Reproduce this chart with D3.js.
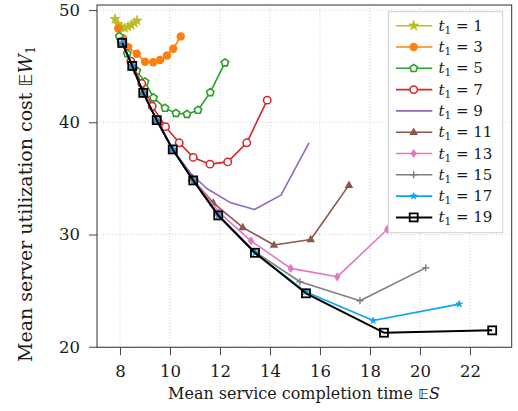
<!DOCTYPE html>
<html>
<head>
<meta charset="utf-8">
<script src="https://cdn.jsdelivr.net/npm/d3@7"></script>
<style>
  html, body { margin: 0; padding: 0; background: #fff; }
  svg { display: block; }
  text { font-family: "DejaVu Serif", "Liberation Serif", serif; fill: #1a1a1a; }
</style>
</head>
<body>
<svg id="chart" width="518" height="411"></svg>
<script>
// ---------------- data ----------------
const t1Values = [1, 3, 5, 7, 9, 11, 13, 15, 17, 19];
const xTicks = [8, 10, 12, 14, 16, 18, 20, 22];
const yTicks = [20, 30, 40, 50];

const es1  = [7.80, 7.92, 8.05, 8.18, 8.32, 8.45, 8.58, 8.68];
const ew1  = [49.2, 48.75, 48.45, 48.4, 48.5, 48.65, 48.85, 49.05];
const es3  = [7.93, 8.12, 8.33, 8.67, 9.00, 9.33, 9.60, 9.88, 10.13, 10.43];
const ew3  = [48.35, 47.5, 46.7, 46.1, 45.4, 45.35, 45.55, 45.95, 46.55, 47.65];
const es5  = [7.97, 8.29, 8.67, 9.00, 9.34, 9.80, 10.24, 10.68, 11.12, 11.61, 12.20];
const ew5  = [47.67, 46.13, 44.58, 43.6, 42.19, 41.26, 40.81, 40.72, 41.08, 42.66, 45.31];
const es7  = [8.05, 8.43, 8.87, 9.29, 9.82, 10.37, 10.93, 11.60, 12.31, 13.07, 13.89];
const ew7  = [47.2, 45.44, 43.45, 41.43, 39.61, 38.17, 36.87, 36.27, 36.47, 38.17, 41.97];
const es9  = [8.09, 8.49, 8.93, 9.47, 10.11, 10.85, 11.47, 12.40, 13.38, 14.44, 15.56];
const ew9  = [47.07, 45.02, 42.62, 40.19, 37.58, 35.4, 34.10, 32.86, 32.23, 33.51, 38.17];
const es11 = [8.09, 8.49, 8.93, 9.47, 10.11, 10.87, 11.73, 12.91, 14.16, 15.63, 17.16];
const ew11 = [47.07, 45.02, 42.62, 40.19, 37.58, 35.0, 32.82, 30.63, 29.06, 29.56, 34.40];
const es13 = [8.09, 8.49, 8.93, 9.47, 10.11, 10.93, 11.95, 13.24, 14.83, 16.69, 18.69];
const ew13 = [47.07, 45.02, 42.62, 40.19, 37.58, 34.9, 32.0, 29.44, 26.98, 26.23, 30.45];
const es15 = [8.09, 8.49, 8.93, 9.47, 10.11, 10.93, 11.93, 13.37, 15.20, 17.60, 20.23];
const ew15 = [47.07, 45.02, 42.62, 40.19, 37.58, 34.82, 31.75, 28.5, 25.79, 24.10, 27.03];
const es17 = [8.09, 8.49, 8.93, 9.47, 10.11, 10.93, 11.93, 13.40, 15.42, 18.13, 21.57];
const ew17 = [47.07, 45.02, 42.62, 40.19, 37.58, 34.82, 31.70, 28.37, 24.9, 22.33, 23.80];
const es19 = [8.09, 8.49, 8.93, 9.47, 10.11, 10.93, 11.93, 13.40, 15.44, 18.56, 22.89];
const ew19 = [47.07, 45.02, 42.62, 40.19, 37.58, 34.82, 31.70, 28.37, 24.76, 21.25, 21.46];

const colors = ["#bcbd22", "#ff7f0e", "#2ca02c", "#d62728", "#9467bd",
                "#8c564b", "#e377c2", "#7f7f7f", "#0aa5ec", "#000000"];
const markers = ["star", "circleFilled", "pentagon", "circleOpen", "none",
                 "triangle", "diamond", "plus", "asterisk", "square"];
const esAll = [es1, es3, es5, es7, es9, es11, es13, es15, es17, es19];
const ewAll = [ew1, ew3, ew5, ew7, ew9, ew11, ew13, ew15, ew17, ew19];

const series = t1Values.map((t, i) => ({
  t1: t, color: colors[i], marker: markers[i],
  points: esAll[i].map((x, j) => ({x: x, y: ewAll[i][j]}))
}));

// ---------------- layout ----------------
const svg = d3.select("#chart");
const L = 97, R = 511.7, T = 5, B = 347.3;
const x = d3.scaleLinear().domain([7.08, 23.67]).range([L, R]);
const y = d3.scaleLinear().domain([19.95, 50.45]).range([B, T]);

// grid
const grid = svg.append("g");
grid.selectAll("line.gx").data(xTicks).join("line")
  .attr("x1", d => x(d)).attr("x2", d => x(d)).attr("y1", T).attr("y2", B)
  .attr("stroke", "#c8c8c8").attr("stroke-width", 0.8).attr("stroke-dasharray", "1,2");
grid.selectAll("line.gy").data(yTicks).join("line")
  .attr("y1", d => y(d)).attr("y2", d => y(d)).attr("x1", L).attr("x2", R)
  .attr("stroke", "#c8c8c8").attr("stroke-width", 0.8).attr("stroke-dasharray", "1,2");

// axes
const xAxis = svg.append("g").attr("transform", `translate(0,${B})`)
  .call(d3.axisBottom(x).tickValues(xTicks).tickSize(8).tickPadding(10).tickFormat(d3.format("d")));
const yAxis = svg.append("g").attr("transform", `translate(${L},0)`)
  .call(d3.axisLeft(y).tickValues(yTicks).tickSize(8).tickPadding(9).tickFormat(d3.format("d")));
[xAxis, yAxis].forEach(g => {
  g.select(".domain").remove();
  g.selectAll(".tick line").attr("stroke", "#333").attr("stroke-width", 0.9);
  g.selectAll(".tick text").attr("font-size", 16.5)
    .attr("font-family", "Liberation Serif, serif").attr("fill", "#1a1a1a");
});

// markers
function pentagon(r) {
  const p = d3.range(5).map(k => {
    const a = -Math.PI / 2 + k * 2 * Math.PI / 5;
    return [r * Math.cos(a), r * Math.sin(a)];
  });
  return "M" + p.map(q => q.join(",")).join("L") + "Z";
}
function drawMarker(g, type, color, cx, cy) {
  const t = `translate(${cx},${cy})`;
  switch (type) {
    case "star":
      g.append("path").attr("d", d3.symbol(d3.symbolStar, 30)()).attr("transform", t)
        .attr("fill", color).attr("stroke", color).attr("stroke-width", 0.8); break;
    case "circleFilled":
      g.append("circle").attr("cx", cx).attr("cy", cy).attr("r", 4.2).attr("fill", color); break;
    case "pentagon":
      g.append("path").attr("d", pentagon(3.9)).attr("transform", t)
        .attr("fill", "#fff").attr("stroke", color).attr("stroke-width", 1.6); break;
    case "circleOpen":
      g.append("circle").attr("cx", cx).attr("cy", cy).attr("r", 3.7)
        .attr("fill", "#fff").attr("stroke", color).attr("stroke-width", 1.5); break;
    case "triangle":
      g.append("path").attr("d", "M0,-4.6L4.3,2.8L-4.3,2.8Z").attr("transform", t).attr("fill", color); break;
    case "diamond":
      g.append("path").attr("d", "M0,-4.6L3.2,0L0,4.6L-3.2,0Z").attr("transform", t).attr("fill", color); break;
    case "plus":
      g.append("path").attr("d", "M-3.5,0H3.5M0,-3.5V3.5").attr("transform", t)
        .attr("stroke", color).attr("stroke-width", 1.5).attr("fill", "none"); break;
    case "asterisk":
      g.append("path").attr("d", d3.symbol(d3.symbolStar, 14)()).attr("transform", t)
        .attr("fill", color).attr("stroke", color).attr("stroke-width", 0.8); break;
    case "square":
      g.append("rect").attr("x", cx - 4).attr("y", cy - 4).attr("width", 8).attr("height", 8)
        .attr("fill", "none").attr("stroke", color).attr("stroke-width", 1.8); break;
  }
}

// series
const line = d3.line().x(d => x(d.x)).y(d => y(d.y));
series.forEach(s => {
  const g = svg.append("g");
  g.append("path").attr("d", line(s.points)).attr("fill", "none")
    .attr("stroke", s.color).attr("stroke-width", s.t1 === 19 ? 2 : 1.6)
    .attr("stroke-linejoin", "round");
  s.points.forEach(p => drawMarker(g, s.marker, s.color, x(p.x), y(p.y)));
});

// frame
svg.append("rect").attr("x", L).attr("y", T).attr("width", R - L).attr("height", B - T)
  .attr("fill", "none").attr("stroke", "#333").attr("stroke-width", 1);

// legend
const lg = svg.append("g");
const lx = 388.3, ly = 11.7, lw = 114.4, lh = 221;
lg.append("rect").attr("x", lx).attr("y", ly).attr("width", lw).attr("height", lh)
  .attr("fill", "#fff").attr("stroke", "#cfcfcf").attr("stroke-width", 1);
series.forEach((s, i) => {
  const ry = 25.7 + i * 21.3;
  const g = lg.append("g");
  g.append("line").attr("x1", 396).attr("x2", 432.3).attr("y1", ry).attr("y2", ry)
    .attr("stroke", s.color).attr("stroke-width", s.t1 === 19 ? 2 : 1.6);
  drawMarker(g, s.marker, s.color, 413.7, ry);
  const tx = g.append("text").attr("x", 438.5).attr("y", ry + 5).attr("font-size", 15);
  tx.append("tspan").attr("font-style", "italic").text("t");
  tx.append("tspan").attr("font-size", 10.5).attr("dy", 3).text("1");
  tx.append("tspan").attr("dy", -3).text(" = " + s.t1);
});

// axis titles
function fitTitle(sel, target) {
  const len = sel.node().getComputedTextLength();
  const f = target / len;
  sel.attr("font-size", 15 * f);
  sel.selectAll("tspan").each(function() {
    const fs = d3.select(this).attr("font-size");
    if (fs) d3.select(this).attr("font-size", +fs * f);
  });
}
const xt = svg.append("text").attr("x", 304).attr("y", 399).attr("text-anchor", "middle").attr("font-size", 15);
xt.append("tspan").text("Mean service completion time ");
xt.append("tspan").attr("font-family", "DejaVu Sans, sans-serif").attr("font-size", 14).text("𝔼");
xt.append("tspan").attr("font-style", "italic").text("S");
fitTitle(xt, 272);

const yt = svg.append("text").attr("transform", "translate(32,204) rotate(-90)")
  .attr("text-anchor", "middle").attr("font-size", 15);
yt.append("tspan").text("Mean server utilization cost ");
yt.append("tspan").attr("font-family", "DejaVu Sans, sans-serif").attr("font-size", 14).text("𝔼");
yt.append("tspan").attr("font-style", "italic").text("W");
yt.append("tspan").attr("font-size", 10).attr("dy", 3).text("1");
fitTitle(yt, 316);
</script>
</body>
</html>
